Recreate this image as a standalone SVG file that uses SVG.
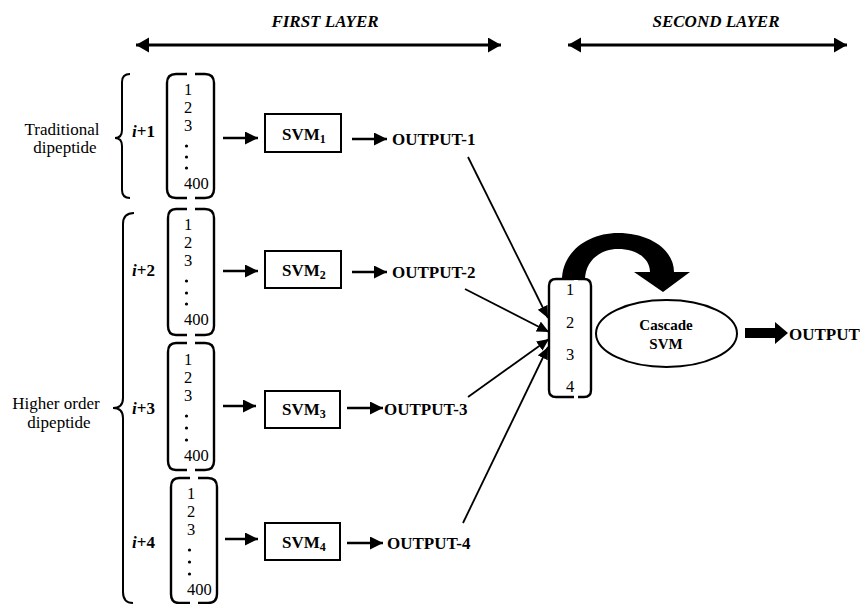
<svg xmlns="http://www.w3.org/2000/svg" width="866" height="604" viewBox="0 0 866 604" font-family="'Liberation Serif', 'Times New Roman', serif">
<style>
  text { font-family: "Liberation Serif", "Times New Roman", serif; fill: #000; }
  .lbl { font-size: 17px; }
  .b { font-weight: bold; }
  .hdr { font-size: 17px; font-weight: bold; font-style: italic; }
  .num { font-size: 16.5px; }
  .sub { font-size: 12px; }
  .dot { fill: #000; }
  .brk { fill: none; stroke: #000; stroke-width: 2.4; stroke-linejoin: round; }
  .brace { fill: none; stroke: #000; stroke-width: 2; }
  .box { fill: #fff; stroke: #000; stroke-width: 2; }
  .arr { stroke: #000; stroke-width: 2.5; fill: none; }
  .thick { stroke: #000; stroke-width: 3; fill: none; }
  .thin { stroke: #000; stroke-width: 1.8; fill: none; }
</style>
<defs>
  <marker id="ah" markerUnits="userSpaceOnUse" markerWidth="14" markerHeight="14" refX="13" refY="6.5" orient="auto">
    <path d="M0,0 L13,6.5 L0,13 Z" fill="#000"/>
  </marker>
  <marker id="ahT" markerUnits="userSpaceOnUse" markerWidth="16" markerHeight="16" refX="13" refY="7.5" orient="auto-start-reverse">
    <path d="M0,0 L13,7.5 L0,15 Z" fill="#000"/>
  </marker>
  <marker id="ahS" markerUnits="userSpaceOnUse" markerWidth="14" markerHeight="12" refX="12" refY="5.5" orient="auto">
    <path d="M0,0 L12,5.5 L0,11 Z" fill="#000"/>
  </marker>
</defs>

<g id="header">
  <line class="thick" x1="136" y1="45" x2="501" y2="45" marker-start="url(#ahT)" marker-end="url(#ahT)"/>
  <line class="thick" x1="568" y1="45" x2="847" y2="45" marker-start="url(#ahT)" marker-end="url(#ahT)"/>
  <text class="hdr" x="325" y="27" text-anchor="middle">FIRST LAYER</text>
  <text class="hdr" x="716" y="27" text-anchor="middle">SECOND LAYER</text>
</g>

<g id="group-traditional">
  <path class="brace" d="M130,74 Q122,74 122,82 L122,130 Q122,138 115,138 Q122,138 122,146 L122,190 Q122,198 130,198"/>
  <text class="lbl" x="62" y="135" text-anchor="middle">Traditional</text>
  <text class="lbl" x="65" y="153" text-anchor="middle">dipeptide</text>
</g>

<g id="group-higher">
  <path class="brace" d="M134,213 Q123,213 123,224 L123,398 Q123,408 113,408 Q123,408 123,418 L123,592 Q123,603 133,603"/>
  <text class="lbl" x="56" y="409" text-anchor="middle">Higher order</text>
  <text class="lbl" x="59" y="428" text-anchor="middle">dipeptide</text>
</g>

<g id="vec1">
  <text class="lbl b" x="132" y="137"><tspan font-style="italic">i</tspan>+1</text>
  <path class="brk" d="M187,74 L176,74 Q167,74 167,83 L167,189 Q167,198 176,198 L187,198"/>
  <path class="brk" d="M195,74 L205,74 Q214,74 214,83 L214,189 Q214,198 205,198 L195,198"/>
  <text class="num" x="184" y="95">1</text>
  <text class="num" x="184" y="113">2</text>
  <text class="num" x="184" y="131">3</text>
  <circle class="dot" cx="186.5" cy="146" r="1.6"/>
  <circle class="dot" cx="186.5" cy="157" r="1.6"/>
  <circle class="dot" cx="186.5" cy="168" r="1.6"/>
  <text class="num" x="184" y="189">400</text>
</g>

<g id="vec2">
  <text class="lbl b" x="132" y="276"><tspan font-style="italic">i</tspan>+2</text>
  <path class="brk" d="M187,209 L176,209 Q168,209 168,218 L168,326 Q168,335 176,335 L187,335"/>
  <path class="brk" d="M195,209 L205,209 Q214,209 214,218 L214,326 Q214,335 205,335 L195,335"/>
  <text class="num" x="184" y="230">1</text>
  <text class="num" x="184" y="248">2</text>
  <text class="num" x="184" y="266">3</text>
  <circle class="dot" cx="186.5" cy="281" r="1.6"/>
  <circle class="dot" cx="186.5" cy="293" r="1.6"/>
  <circle class="dot" cx="186.5" cy="304" r="1.6"/>
  <text class="num" x="184" y="325">400</text>
</g>

<g id="vec3">
  <text class="lbl b" x="132" y="414"><tspan font-style="italic">i</tspan>+3</text>
  <path class="brk" d="M187,343 L176,343 Q168,343 168,352 L168,461 Q168,470 176,470 L187,470"/>
  <path class="brk" d="M195,343 L205,343 Q214,343 214,352 L214,461 Q214,470 205,470 L195,470"/>
  <text class="num" x="184" y="365">1</text>
  <text class="num" x="184" y="383">2</text>
  <text class="num" x="184" y="401">3</text>
  <circle class="dot" cx="186.5" cy="416" r="1.6"/>
  <circle class="dot" cx="186.5" cy="428" r="1.6"/>
  <circle class="dot" cx="186.5" cy="440" r="1.6"/>
  <text class="num" x="184" y="461">400</text>
</g>

<g id="vec4">
  <text class="lbl b" x="132" y="548"><tspan font-style="italic">i</tspan>+4</text>
  <path class="brk" d="M190,478 L179,478 Q171,478 171,487 L171,594 Q171,603 179,603 L190,603"/>
  <path class="brk" d="M198,478 L208,478 Q217,478 217,487 L217,594 Q217,603 208,603 L198,603"/>
  <text class="num" x="187" y="499">1</text>
  <text class="num" x="187" y="517">2</text>
  <text class="num" x="187" y="535">3</text>
  <circle class="dot" cx="189.5" cy="550" r="1.6"/>
  <circle class="dot" cx="189.5" cy="562" r="1.6"/>
  <circle class="dot" cx="189.5" cy="574" r="1.6"/>
  <text class="num" x="187" y="595">400</text>
</g>

<g id="svm1">
  <rect class="box" x="265" y="114" width="76" height="38"/>
  <text class="lbl b" x="282" y="140">SVM<tspan class="sub" dy="3">1</tspan></text>
</g>
<g id="svm2">
  <rect class="box" x="265" y="251" width="76" height="37"/>
  <text class="lbl b" x="282" y="276">SVM<tspan class="sub" dy="3">2</tspan></text>
</g>
<g id="svm3">
  <rect class="box" x="265" y="391" width="75" height="37"/>
  <text class="lbl b" x="282" y="415">SVM<tspan class="sub" dy="3">3</tspan></text>
</g>
<g id="svm4">
  <rect class="box" x="265" y="523" width="75" height="37"/>
  <text class="lbl b" x="282" y="548">SVM<tspan class="sub" dy="3">4</tspan></text>
</g>

<g id="out1"><text class="lbl b" x="392" y="145">OUTPUT-1</text></g>
<g id="out2"><text class="lbl b" x="392" y="278">OUTPUT-2</text></g>
<g id="out3"><text class="lbl b" x="384" y="415">OUTPUT-3</text></g>
<g id="out4"><text class="lbl b" x="387" y="549">OUTPUT-4</text></g>

<g id="cascade-input">
  <path class="brk" d="M574,279 L556,279 Q549,279 549,286 L549,390 Q549,397 556,397 L574,397"/>
  <path class="brk" d="M578,279 L584,279 Q591,279 591,286 L591,390 Q591,397 584,397 L578,397"/>
  <text class="num" x="570" y="295" text-anchor="middle">1</text>
  <text class="num" x="570" y="328" text-anchor="middle">2</text>
  <text class="num" x="570" y="360" text-anchor="middle">3</text>
  <text class="num" x="570" y="392" text-anchor="middle">4</text>
</g>

<g id="cascade-svm">
  <ellipse class="box" cx="666.5" cy="333.5" rx="70.5" ry="33.5"/>
  <text class="b" font-size="15" x="666" y="330" text-anchor="middle">Cascade</text>
  <text class="b" font-size="15" x="666" y="349" text-anchor="middle">SVM</text>
</g>

<g id="final-output">
  <text class="lbl b" x="789" y="340">OUTPUT</text>
</g>

<g id="connectors">
  <line class="arr" x1="223" y1="138" x2="258" y2="138" marker-end="url(#ah)"/>
  <line class="arr" x1="223" y1="271" x2="258" y2="271" marker-end="url(#ah)"/>
  <line class="arr" x1="223" y1="406" x2="256" y2="406" marker-end="url(#ah)"/>
  <line class="arr" x1="225" y1="539" x2="258" y2="539" marker-end="url(#ah)"/>

  <line class="arr" x1="352" y1="139" x2="387" y2="139" marker-end="url(#ah)"/>
  <line class="arr" x1="352" y1="272" x2="387" y2="272" marker-end="url(#ah)"/>
  <line class="arr" x1="347" y1="408" x2="383" y2="408" marker-end="url(#ah)"/>
  <line class="arr" x1="347" y1="543" x2="383" y2="543" marker-end="url(#ah)"/>

  <line class="thin" x1="468" y1="157" x2="548" y2="318" marker-end="url(#ahS)"/>
  <line class="thin" x1="465" y1="289" x2="549" y2="332" marker-end="url(#ahS)"/>
  <line class="thin" x1="468" y1="397" x2="549" y2="339" marker-end="url(#ahS)"/>
  <line class="thin" x1="463" y1="523" x2="548" y2="347" marker-end="url(#ahS)"/>

  <path d="M562,280 C562,252 588,233 618,233 C650,233 674,250 674,272 L690,272 L663,292 L634,272 L650,272 C650,258 636,249 618,249 C600,249 585,261 585,280 Z" fill="#000"/>

  <path d="M745,328 L775,328 L775,322 L788,333 L775,344 L775,338 L745,338 Z" fill="#000"/>
</g>
</svg>
